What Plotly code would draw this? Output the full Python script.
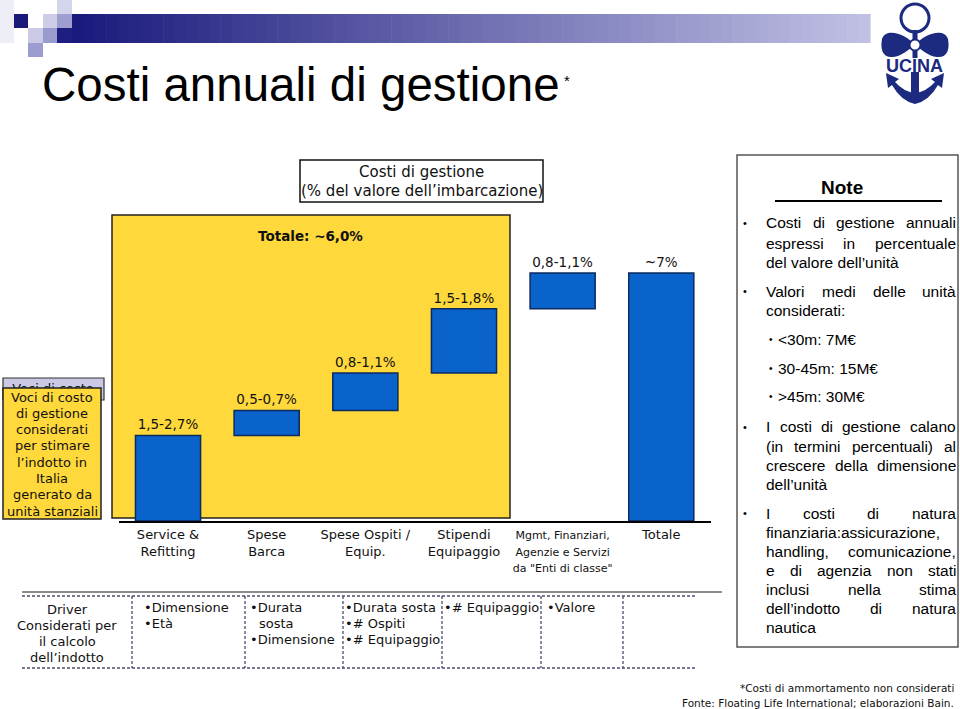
import re
import plotly.graph_objects as go

W, H = 960, 709
def X(px): return px / W
def Y(py): return 1 - py / H

# ---------------- data ----------------
categories = ["Service & Refitting", "Spese Barca", "Spese Ospiti / Equip.",
              "Stipendi Equipaggio", "Mgmt, Finanziari, Agenzie e Servizi da \"Enti di classe\"", "Totale"]
tick_labels = ["Service &<br>Refitting", "Spese<br>Barca", "Spese Ospiti /<br>Equip.", "Stipendi<br>Equipaggio",
               "<span style='font-size:11px'>Mgmt, Finanziari,</span><br><span style='font-size:11px'>Agenzie e Servizi</span><br><span style='font-size:11px'>da \"Enti di classe\"</span>",
               "Totale"]
cost_values = [2.4, 0.7, 1.05, 1.8, 1.0, 0]
measures = ["relative", "relative", "relative", "relative", "relative", "total"]
value_labels = ["1,5-2,7%", "0,5-0,7%", "0,8-1,1%", "1,5-1,8%", "0,8-1,1%", "~7%"]

driver_items = [
    (143, ["•Dimensione", "•Età"]),
    (249, ["•Durata", " sosta", "•Dimensione"]),
    (344, ["•Durata sosta", "•# Ospiti", "•# Equipaggio"]),
    (443, ["•# Equipaggio"]),
    (546, ["•Valore"]),
]
left_box_lines = ["Voci di costo", "di gestione", "considerati", "per stimare",
                  "l’indotto in", "Italia", "generato da", "unità stanziali"]
driver_label_lines = ["Driver", "Considerati per", "il calcolo", "dell’indotto"]

note_lines = [  # text, y, justified, bullet level
    ("Costi di gestione annuali", 223, True, 1),
    ("espressi in percentuale", 243, True, 0),
    ("del valore dell’unità", 262, False, 0),
    ("Valori medi delle unità", 291, True, 1),
    ("considerati:", 310, False, 0),
    ("<30m: 7M€", 340, False, 2),
    ("30-45m: 15M€", 368, False, 2),
    (">45m: 30M€", 396, False, 2),
    ("I costi di gestione calano", 427, True, 1),
    ("(in termini percentuali) al", 446, True, 0),
    ("crescere della dimensione", 465, True, 0),
    ("dell’unità", 484, False, 0),
    ("I costi di natura", 513, True, 1),
    ("finanziaria:assicurazione,", 532, False, 0),
    ("handling, comunicazione,", 551, True, 0),
    ("e di agenzia non stati", 570, True, 0),
    ("inclusi nella stima", 589, True, 0),
    ("dell’indotto di natura", 608, True, 0),
    ("nautica", 627, False, 0),
]

SANS = "DejaVu Sans"
ARIAL = "Liberation Sans"
BLUE = "#0A62CB"
EDGE = "#0B2A5E"
YELLOW = "#FFD83B"
NAVY = "#1C2A80"

shapes = []
annotations = []

def rect(x0, y0, x1, y1, fill, lc=None, lw=0, layer="below"):
    shapes.append(dict(type="rect", xref="paper", yref="paper", x0=X(x0), x1=X(x1), y0=Y(y1), y1=Y(y0),
                       fillcolor=fill, line=dict(color=lc or fill, width=lw), layer=layer))

def hline(x0, y0, x1, y1, color, width, dash="solid", layer="below"):
    shapes.append(dict(type="line", xref="paper", yref="paper", x0=X(x0), x1=X(x1), y0=Y(y0), y1=Y(y1),
                       line=dict(color=color, width=width, dash=dash), layer=layer))

def circle(x0, y0, x1, y1, fill, lc, lw):
    shapes.append(dict(type="circle", xref="paper", yref="paper", x0=X(x0), x1=X(x1), y0=Y(y1), y1=Y(y0),
                       fillcolor=fill, line=dict(color=lc, width=lw), layer="above"))

def path_px(d, fill, lc=None, lw=0):
    toks = re.findall(r"[A-Za-z]|-?\d+\.?\d*", d)
    out, nums = [], []
    for t in toks:
        if t.isalpha():
            out.append(t)
        else:
            nums.append(float(t))
            if len(nums) == 2:
                out.append(f"{X(nums[0]):.5f},{Y(nums[1]):.5f}")
                nums = []
    shapes.append(dict(type="path", xref="paper", yref="paper", path=" ".join(out),
                       fillcolor=fill, line=dict(color=lc or fill, width=lw), layer="above"))

def txt(s, x, y, size, family=SANS, color="#111111", xanchor="center", yanchor="middle", align="center"):
    annotations.append(dict(text=s, x=X(x), y=Y(y), xref="paper", yref="paper", showarrow=False,
                            font=dict(family=family, size=size, color=color),
                            xanchor=xanchor, yanchor=yanchor, align=align, borderpad=0))

# ---------------- decoration: top banner ----------------
def lerp(a, b, t): return int(round(a + (b - a) * t))
c0, c1 = (26, 26, 125), (192, 192, 228)
N = 70
bx0, bx1 = 72, 870
for i in range(N):
    t = i / (N - 1)
    col = "rgb(%d,%d,%d)" % (lerp(c0[0], c1[0], t), lerp(c0[1], c1[1], t), lerp(c0[2], c1[2], t))
    xa = bx0 + (bx1 - bx0) * i / N
    xb = bx0 + (bx1 - bx0) * (i + 1) / N + 0.6
    rect(xa, 14, xb, 43, col)
rect(0, 0, 14, 43, "#EEEEF7")
rect(14, 14, 28, 28, "#1A1A78")
rect(43, 14, 57, 28, "#CDCDE8")
rect(57, 0, 72, 14, "#D4D4EC")
rect(57, 14, 72, 28, "#9E9ED0")
rect(57, 28, 72, 43, "#1E1E80")
rect(28, 28, 43, 43, "#CACAE6")
rect(43, 28, 57, 43, "#9A9ACE")
rect(28, 43, 43, 57, "#9C9CCF")

# title
txt("Costi annuali di gestione", 41, 84, 47.5, family=ARIAL, color="#000000", xanchor="left")
txt("*", 567, 80, 15, family=ARIAL, color="#000000")

# logo
circle(901, 4, 929, 32, "rgba(0,0,0,0)", NAVY, 3)
rect(912.5, 30, 917.5, 58, NAVY, layer="above")
path_px("M 915 45 C 906 34 886 27 882 39 C 880 50 883 58 893 57 C 902 56 908 50 915 45 Z", NAVY)
path_px("M 915 45 C 924 34 944 27 948 39 C 950 50 947 58 937 57 C 928 56 922 50 915 45 Z", NAVY)
circle(909.5, 39.5, 920.5, 50.5, "white", NAVY, 2)
rect(911, 72, 919, 100, NAVY, layer="above")
path_px("M 886 73 L 899 79 L 895 82 Q 904 92 915 93 Q 926 92 935 82 L 931 79 L 944 73 L 942 88 L 938 85 Q 929 101 915 104 Q 901 101 892 85 L 888 88 Z", NAVY)
txt("<b>UCINA</b>", 914, 66, 18, family=ARIAL, color=NAVY)

# subtitle box
rect(300, 160, 543, 202, "white", "#111111", 1.5)
txt("Costi di gestione", 421.5, 172, 15)
txt("(% del valore dell’imbarcazione)", 421.5, 191, 15)

# main yellow box
rect(112, 215, 510, 518, YELLOW, "#222222", 1.5)
txt("<b>Totale: ~6,0%</b>", 310, 236, 13.5)

# left box (lavender behind, yellow above)
rect(3, 378, 104, 400, "#C9C9E6", "#333333", 1.2)
rect(3, 388, 101, 519, YELLOW, "#222222", 1.5, layer="above")
for i, s in enumerate(left_box_lines):
    txt(s, 52, 397 + i * 16.3, 13)

# driver section
hline(22, 592, 722, 592, "#666666", 1.3)
hline(22, 596, 697, 596, "#4C4C70", 1.5, dash="3px,2px")
hline(22, 668, 697, 668, "#4C4C70", 1.5, dash="3px,2px")
for xv in [132, 245, 343, 442, 541, 623]:
    hline(xv, 596, xv, 668, "#4C4C70", 1.3, dash="3px,2px")
for i, s in enumerate(driver_label_lines):
    txt(s, 67, 609 + i * 16, 13)
for xv, items in driver_items:
    for j, s in enumerate(items):
        if s.startswith(" "):
            txt(s.strip(), xv + 9, 607 + j * 16, 13, xanchor="left")
        else:
            txt(s, xv, 607 + j * 16, 13, xanchor="left")

# notes box
rect(737, 155, 958, 647, "white", "#555555", 1.5)
txt("<b>Note</b>", 842, 187, 19, family=ARIAL, color="#000000")
hline(775, 201, 942, 201, "#000000", 2)

AW = {' ': 278, 'a': 556, 'b': 556, 'c': 500, 'd': 556, 'e': 556, 'f': 278, 'g': 556, 'h': 556, 'i': 222,
      'j': 222, 'k': 500, 'l': 222, 'm': 833, 'n': 556, 'o': 556, 'p': 556, 'q': 556, 'r': 333, 's': 500,
      't': 278, 'u': 556, 'v': 500, 'w': 722, 'x': 500, 'y': 500, 'z': 500, 'à': 556, '’': 222, ':': 278,
      ',': 278, '(': 333, ')': 333, 'I': 278, 'C': 722, 'V': 667, '<': 584, '>': 584, 'M': 833, '€': 556, '-': 333}
NOTE_SIZE = 15.5
def wwidth(w): return sum(AW.get(ch, 556) for ch in w) / 1000 * NOTE_SIZE

TX0, TX1 = 765, 955
for s, yv, just, lvl in note_lines:
    if lvl == 1:
        txt("•", 742, yv, 11, family=ARIAL, color="#000000", xanchor="left")
    if lvl == 2:
        txt("•", 768, yv, 10, family=ARIAL, color="#000000", xanchor="left")
        txt(s, 777, yv, NOTE_SIZE, family=ARIAL, color="#000000", xanchor="left")
        continue
    words = s.split(" ")
    if just and len(words) > 1:
        tot = sum(wwidth(w) for w in words)
        gap = (TX1 - TX0 - tot) / (len(words) - 1)
        xp = TX0
        for w in words:
            txt(w, xp, yv, NOTE_SIZE, family=ARIAL, color="#000000", xanchor="left")
            xp += wwidth(w) + gap
    else:
        txt(s, TX0, yv, NOTE_SIZE, family=ARIAL, color="#000000", xanchor="left")

# footer
txt("*Costi di ammortamento non considerati", 955, 688, 10.5, xanchor="right")
txt("Fonte: Floating Life International; elaborazioni Bain.", 955, 703, 10.5, xanchor="right")

# ---------------- chart ----------------
fig = go.Figure()
fig.add_trace(go.Waterfall(
    x=categories, y=cost_values, measure=measures,
    text=value_labels, textposition="outside", cliponaxis=False,
    textfont=dict(family=SANS, size=13.5, color="#111111"),
    increasing=dict(marker=dict(color=BLUE, line=dict(color=EDGE, width=1.5))),
    decreasing=dict(marker=dict(color=BLUE, line=dict(color=EDGE, width=1.5))),
    totals=dict(marker=dict(color=BLUE, line=dict(color=EDGE, width=1.5))),
    connector=dict(visible=False), width=0.66, hoverinfo="skip", showlegend=False,
))
# partially hidden label behind the left box
fig.add_trace(go.Scatter(x=[53], y=[390], mode="text", text=["Voci di costo"],
                         textfont=dict(family=SANS, size=13, color="#111111"),
                         xaxis="x2", yaxis="y2", hoverinfo="skip", showlegend=False, cliponaxis=False))

fig.update_layout(
    width=W, height=H, autosize=False,
    margin=dict(l=0, r=0, t=0, b=0),
    paper_bgcolor="white", plot_bgcolor="rgba(0,0,0,0)",
    xaxis=dict(domain=[X(118.7), X(710.6)], type="category", range=[-0.5, 5.5],
               tickmode="array", tickvals=categories, ticktext=tick_labels,
               showline=True, linecolor="#000000", linewidth=2, ticks="", showgrid=False, zeroline=False,
               tickfont=dict(family=SANS, size=13, color="#111111"), fixedrange=True, anchor="y"),
    yaxis=dict(domain=[Y(521), Y(200)], range=[0, 9.0], visible=False, fixedrange=True, anchor="x"),
    xaxis2=dict(domain=[0, 1], range=[0, W], visible=False, anchor="y2", fixedrange=True),
    yaxis2=dict(domain=[0, 1], range=[H, 0], visible=False, anchor="x2", fixedrange=True),
    shapes=shapes, annotations=annotations,
)

fig.write_html("out.html", config={"displayModeBar": False},
               post_script="document.body.style.margin='0';document.body.style.overflow='hidden';")
